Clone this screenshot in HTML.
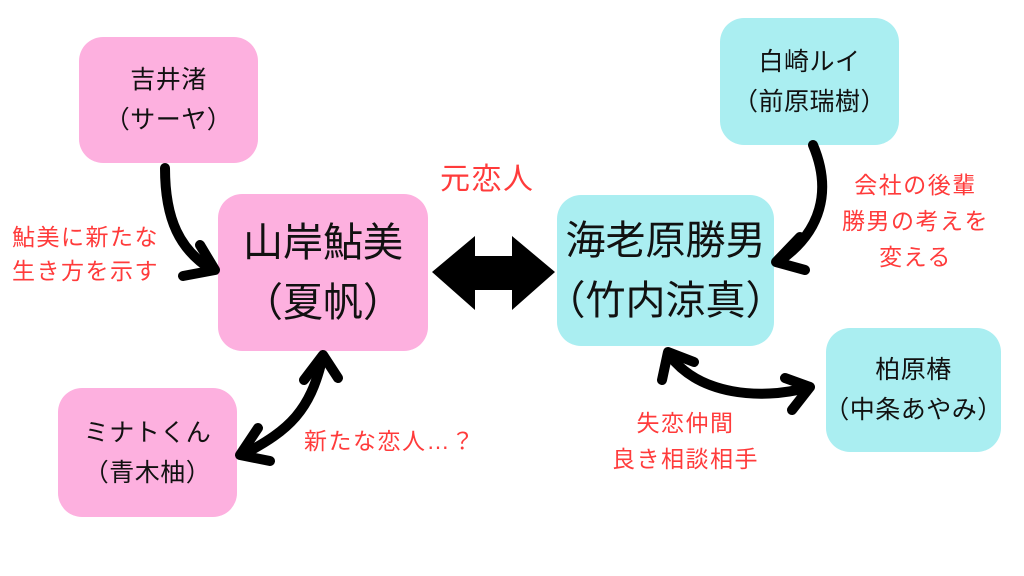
<!DOCTYPE html>
<html><head><meta charset="utf-8"><style>
body{margin:0;width:1024px;height:576px;background:#fff;position:relative;overflow:hidden;font-family:"Liberation Sans","Noto Sans CJK JP",sans-serif;}
.b{position:absolute;border-radius:24px;display:flex;align-items:center;justify-content:center;text-align:center;color:#111;white-space:nowrap}
.p{background:#fdb0df}.c{background:#aaeef1}
.s{font-size:25px;line-height:40px;letter-spacing:0.5px}
.l{font-size:40px;line-height:60px;letter-spacing:0}
.r{position:absolute;color:#ff3b3b;font-size:23px;line-height:35px;letter-spacing:1.5px;text-align:center;white-space:nowrap}
svg{position:absolute;left:0;top:0}
</style></head><body>
<div class="b p s" style="left:79px;top:37px;width:179px;height:126px">吉井渚<br>（サーヤ）</div>
<div class="b p l" style="left:218px;top:194px;width:210px;height:157px">山岸鮎美<br>（夏帆）</div>
<div class="b p s" style="left:58px;top:388px;width:179px;height:129px">ミナトくん<br>（青木柚）</div>
<div class="b c s" style="left:720px;top:18px;width:179px;height:127px">白崎ルイ<br>（前原瑞樹）</div>
<div class="b c l" style="left:557px;top:195px;width:217px;height:151px">海老原勝男<br>（竹内涼真）</div>
<div class="b c s" style="left:826px;top:328px;width:175px;height:124px">柏原椿<br>（中条あやみ）</div>
<div class="r" style="left:440px;top:160px;font-size:30px;line-height:40px">元恋人</div>
<div class="r" style="left:12px;top:220px;text-align:left;line-height:34px">鮎美に新たな<br>生き方を示す</div>
<div class="r" style="left:304px;top:424px">新たな恋人…？</div>
<div class="r" style="left:842px;top:167px;line-height:36px">会社の後輩<br>勝男の考えを<br>変える</div>
<div class="r" style="left:612px;top:405px;line-height:36px">失恋仲間<br>良き相談相手</div>
<svg width="1024" height="576" fill="none" stroke="#000" stroke-width="10" stroke-linecap="round" stroke-linejoin="round">
<polygon fill="#000" stroke="none" points="432,272 475,236 475,256 512,256 512,236 555,272 512,310 512,290 475,290 475,310"/>
<path d="M165,168 C165,220 180,250 212,270"/>
<path d="M183,276 L215,270 L200,245"/>
<path d="M322,360 C310,410 290,430 244,454"/>
<path d="M304,380 L323,355 L338,378"/>
<path d="M258,428 L240,455 L270,461"/>
<path d="M813,145 C832,190 822,232 778,262"/>
<path d="M800,237 L776,262 L805,270"/>
<path d="M670,356 C700,395 760,400 806,388"/>
<path d="M662,380 L668,352 L694,362"/>
<path d="M785,378 L810,387 L792,410"/>
</svg>
</body></html>
